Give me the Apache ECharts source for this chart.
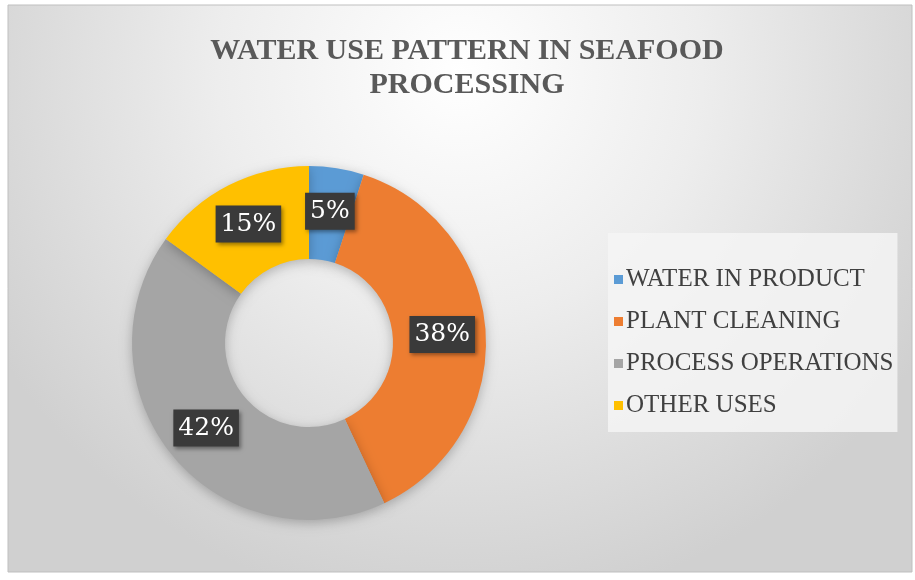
<!DOCTYPE html>
<html><head><meta charset="utf-8">
<script src="https://cdn.jsdelivr.net/npm/echarts@6/dist/echarts.min.js"></script>
<style>html,body{margin:0;padding:0;background:#fff}#c{width:915px;height:580px}</style>
</head><body><div id="c"></div>
<script>
const categories = ['WATER IN PRODUCT', 'PLANT CLEANING', 'PROCESS OPERATIONS', 'OTHER USES'];
const values = [5, 38, 42, 15];
const colors = ['#5B9BD5', '#ED7D31', '#A5A5A5', '#FFC000'];
const titleText = 'WATER USE PATTERN IN SEAFOOD\nPROCESSING';

const chart = echarts.init(document.getElementById('c'));
chart.setOption({
  backgroundColor: '#ffffff',
  animation: false,
  graphic: [{
    type: 'rect', z: -10, silent: true,
    shape: {x: 8, y: 5, width: 904, height: 567},
    style: {
      fill: {type: 'radial', x: 0.5, y: 0.12, r: 0.95, colorStops: [
        {offset: 0, color: '#ffffff'}, {offset: 0.45, color: '#ededed'}, {offset: 1, color: '#d0d0d0'}]},
      stroke: '#bfbfbf', lineWidth: 1
    }
  }],
  title: {
    text: titleText, left: 462, textAlign: 'center', top: 29,
    textStyle: {fontFamily: 'Liberation Serif', fontWeight: 'bold', fontSize: 30, color: '#595959', lineHeight: 34}
  },
  legend: {
    orient: 'vertical', left: 608, top: 233,
    backgroundColor: 'rgba(245,245,245,0.85)',
    padding: [34, 4, 14, 6],
    itemWidth: 9, itemHeight: 9, itemGap: 17, icon: 'rect',
    textStyle: {fontFamily: 'Liberation Serif', fontSize: 25, color: '#404040', padding: [0, 0, 0, -2]},
    data: categories
  },
  series: [{
    type: 'pie', center: [309, 343], radius: [84, 177],
    startAngle: 90, clockwise: true,
    itemStyle: {shadowBlur: 12, shadowColor: 'rgba(0,0,0,0.25)', shadowOffsetY: 3},
    label: {
      position: 'inside', formatter: '{c}%',
      fontFamily: 'DejaVu Serif', fontSize: 25, color: '#ffffff',
      backgroundColor: '#3a3a3a', padding: [7, 5, 5, 5],
      shadowBlur: 4, shadowColor: 'rgba(0,0,0,0.4)', shadowOffsetX: 2, shadowOffsetY: 2
    },
    labelLine: {show: false},
    emphasis: {disabled: true},
    data: categories.map((n, i) => ({name: n, value: values[i], itemStyle: {color: colors[i]}}))
  }]
});
</script></body></html>
